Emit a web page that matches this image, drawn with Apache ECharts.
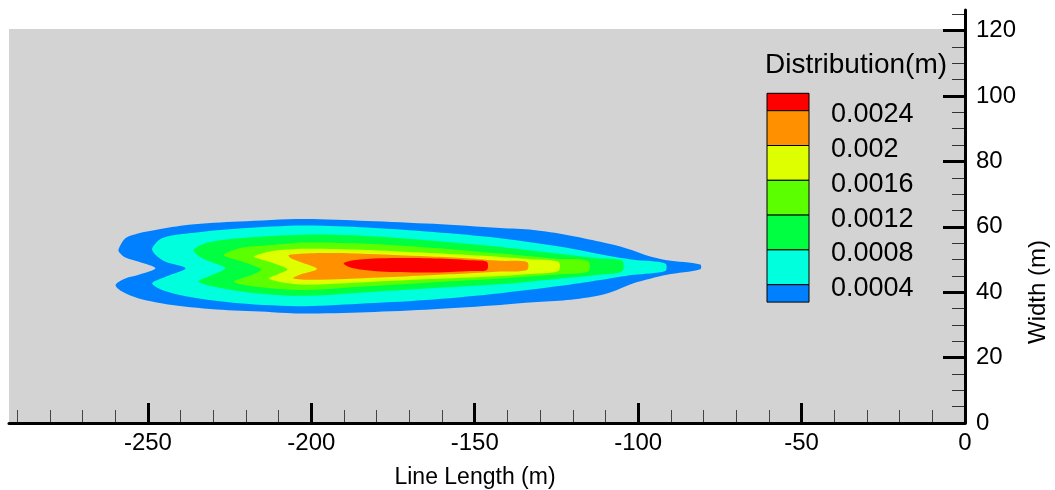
<!DOCTYPE html>
<html>
<head>
<meta charset="utf-8">
<title>Distribution contour</title>
<script src="https://cdn.jsdelivr.net/npm/echarts@6.0.0/dist/echarts.min.js"></script>
<style>
  html, body { margin: 0; padding: 0; background: #fff; }
  #chart { width: 1055px; height: 490px; }
</style>
</head>
<body>
<div id="chart"></div>
<script>
// legend levels (m) and the band colours, lowest band first
const levels = [0.0004, 0.0008, 0.0012, 0.0016, 0.002, 0.0024]
const bandColors = ['#0080ff', '#00ffdd', '#00ff40', '#5cff00', '#ddff00', '#ff9100', '#ff0000']

// axis ticks
const xMajorTicks = [-250, -200, -150, -100, -50, 0]
const yMajorTicks = [0, 20, 40, 60, 80, 100, 120]

// extent of the computed domain (grey area)
const domainX = [-292.5, 0]
const domainY = [0, 120.5]

// outlines of each filled band as [x, y]
const blueRegion = [
  [-258.9, 53.4], [-256.9, 56.5], [-252.8, 58.0], [-247.7, 59.0], [-237.5, 60.6], [-222.2, 61.6],
  [-202.5, 62.4], [-183, 61.8], [-162.6, 60.9], [-142.2, 59.6], [-132, 59.0], [-121.8, 57.5],
  [-111.6, 55.4], [-103.5, 53.4], [-96.3, 50.9], [-91.2, 49.8], [-81, 48.5], [-81, 47.0],
  [-91.2, 45.3], [-101.4, 42.7], [-106.5, 40.7], [-111.6, 39.1], [-121.8, 37.6], [-132, 36.9],
  [-142.2, 36.1], [-162.6, 34.8], [-183, 33.9], [-202.5, 33.5], [-212, 33.9], [-227.3, 34.6],
  [-242.6, 36.1], [-252.8, 38.1], [-257.9, 40.2], [-259.9, 42.2], [-256.9, 44.2], [-252.8, 45.3],
  [-247.7, 47.3], [-252.8, 49.3], [-256.9, 50.6], [-258.9, 52.4]
]
const cyanRegion = [
  [-248.7, 53.4], [-245.7, 56.5], [-237.5, 58.0], [-222.2, 59.5], [-202, 60.4], [-183, 59.8],
  [-162.6, 58.4], [-142.2, 56.5], [-121.8, 53.6], [-111.6, 51.6], [-101.4, 49.9], [-91.7, 48.8],
  [-91.7, 46.5], [-101.4, 45.3], [-111.6, 43.7], [-121.8, 42.2], [-142.2, 39.7], [-162.6, 37.8],
  [-183, 36.6], [-202, 35.7], [-222.2, 36.6], [-237.5, 38.6], [-245.7, 40.7], [-248.7, 42.7],
  [-244.6, 44.7], [-238.5, 47.3], [-244.6, 49.3], [-247.6, 51.4]
]
const greenRegion = [
  [-236, 52.9], [-232.4, 55.0], [-222.2, 56.5], [-202, 57.6], [-183, 57.2], [-163.6, 55.8],
  [-142, 53.8], [-125, 51.8], [-112, 50.3], [-104.9, 49.6], [-104.9, 46.4], [-112, 45.3],
  [-125, 44.0], [-142, 42.4], [-163.6, 41.2], [-183, 40.0], [-202, 38.9], [-217.1, 39.7],
  [-227.3, 41.2], [-234.5, 43.2], [-231, 45.0], [-226.3, 47.3], [-230, 49.0], [-234, 50.8]
]
const limeRegion = [
  [-226.8, 51.4], [-222.2, 53.4], [-212, 54.4], [-202, 55.2], [-183, 54.8], [-163.6, 53.6],
  [-142, 51.8], [-125, 50.2], [-115.3, 49.5], [-115.3, 46.3], [-125, 45.4], [-142, 44.2],
  [-163.6, 43.0], [-183, 41.8], [-202, 40.7], [-217.1, 41.7], [-223.7, 43.2], [-219, 45.0],
  [-215.4, 46.9], [-219, 48.6], [-224, 50.2]
]
const yellowRegion = [
  [-217.6, 50.9], [-212, 52.6], [-202, 53.3], [-185, 53.0], [-163.6, 52.0], [-145, 51.0],
  [-133, 50.1], [-124.4, 49.3], [-124.4, 46.5], [-133, 45.6], [-145, 44.8], [-163.6, 44.0],
  [-185, 43.0], [-202, 42.3], [-207, 42.7], [-213, 44.2], [-210, 45.6], [-207.3, 47.0],
  [-212, 49.0], [-216, 50.2]
]
const orangeRegion = [
  [-206.9, 51.4], [-199.4, 51.9], [-189, 51.9], [-163.6, 50.9], [-152.4, 50.4], [-142.2, 49.6],
  [-134, 49.2], [-134, 46.8], [-142.2, 46.3], [-152.4, 45.7], [-163.6, 45.2], [-179, 44.5],
  [-199.4, 43.8], [-205.5, 44.3], [-203.4, 45.4], [-198.3, 47.1], [-203.4, 49.2], [-206.5, 50.5]
]
const redRegion = [
  [-190.1, 48.8], [-187.1, 49.8], [-178.9, 50.4], [-163.6, 50.4], [-151.4, 49.8], [-146.3, 49.3],
  [-146.3, 46.8], [-151.4, 46.5], [-163.6, 46.0], [-178.9, 46.3], [-187.1, 47.3]
]

const regions = [blueRegion, cyanRegion, greenRegion, limeRegion, yellowRegion, orangeRegion, redRegion]

const fontFamily = "'Liberation Sans', Arial, sans-serif"

let xMinorTicks = []
for (let v = -290; v <= 0; v += 10) xMinorTicks.push(v)
let yMinorTicks = []
for (let v = 0; v <= 125; v += 5) yMinorTicks.push(v)

// colour legend drawn as graphic boxes, top band (red) first
function buildLegend() {
  let items = []
  let left = 767, top = 93.3, boxW = 42, full = 34.8, half = 17.4
  items.push({
    type: 'text', x: 765, y: 65, z: 100,
    style: { text: 'Distribution(m)', font: '28px ' + fontFamily, fill: '#000', textVerticalAlign: 'middle' }
  })
  let y = top
  for (let i = bandColors.length - 1; i >= 0; i--) {
    let h = (i === 0 || i === bandColors.length - 1) ? half : full
    items.push({
      type: 'rect', z: 100, shape: { x: left, y: y, width: boxW, height: h },
      style: { fill: bandColors[i], stroke: '#000', lineWidth: 1 }
    })
    y += h
    if (i > 0) {
      items.push({
        type: 'text', x: 831, y: y + 4, z: 100,
        style: { text: String(levels[i - 1]), font: '27px ' + fontFamily, fill: '#000', textVerticalAlign: 'middle' }
      })
    }
  }
  items.push({
    type: 'text', x: 1038, y: 292, rotation: Math.PI / 2, z: 100,
    style: { text: 'Width (m)', font: '24px ' + fontFamily, fill: '#000', textAlign: 'center', textVerticalAlign: 'middle' }
  })
  return items
}

function getOption() {
  let tickLabel = { fontSize: 24, color: '#000', fontFamily: fontFamily }
  return {
    animation: false,
    backgroundColor: '#fff',
    grid: { left: 9, right: 90, top: 10, bottom: 67, outerBoundsMode: 'none' },
    xAxis: [
      {
        type: 'value', min: domainX[0], max: domainX[1], position: 'bottom', z: 10,
        axisLine: { show: true, onZero: false, lineStyle: { color: '#000', width: 3 } },
        axisTick: { inside: true, length: 20, customValues: xMajorTicks, lineStyle: { color: '#000', width: 3 } },
        axisLabel: Object.assign({ customValues: xMajorTicks, margin: 8 }, tickLabel),
        splitLine: { show: false },
        name: 'Line Length (m)', nameLocation: 'middle', nameGap: 43,
        nameTextStyle: { fontSize: 23, color: '#000', fontFamily: fontFamily, padding: [0, 24, 0, 0] }
      },
      {
        type: 'value', min: domainX[0], max: domainX[1], position: 'bottom', z: 9,
        axisLine: { show: false },
        axisTick: { inside: true, length: 13, customValues: xMinorTicks, lineStyle: { color: '#444', width: 1 } },
        axisLabel: { show: false },
        splitLine: { show: false }
      }
    ],
    yAxis: [
      {
        type: 'value', min: 0, max: 126.3, position: 'right', z: 10,
        axisLine: { show: true, onZero: false, lineStyle: { color: '#000', width: 3 } },
        axisTick: { inside: true, length: 22, customValues: yMajorTicks, lineStyle: { color: '#000', width: 3 } },
        axisLabel: Object.assign({ customValues: yMajorTicks, margin: 11 }, tickLabel),
        splitLine: { show: false }
      },
      {
        type: 'value', min: 0, max: 126.3, position: 'right', z: 9,
        axisLine: { show: false },
        axisTick: { inside: true, length: 13, customValues: yMinorTicks, lineStyle: { color: '#333', width: 1 } },
        axisLabel: { show: false },
        splitLine: { show: false }
      }
    ],
    graphic: buildLegend(),
    series: [
      {
        type: 'custom', name: 'domain', z: 1, silent: true,
        data: [[domainX[0], domainY[1]]],
        renderItem: function (params, api) {
          let p0 = api.coord([domainX[0], domainY[1]])
          let p1 = api.coord([domainX[1], domainY[0]])
          return {
            type: 'rect',
            shape: { x: p0[0], y: p0[1], width: p1[0] - p0[0], height: p1[1] - p0[1] },
            style: { fill: '#d3d3d3' }
          }
        }
      },
      {
        type: 'custom', name: 'Distribution', z: 2, silent: true,
        data: regions.map(r => r[0]),
        renderItem: function (params, api) {
          let pts = regions[params.dataIndex].map(p => api.coord(p))
          return {
            type: 'polygon',
            shape: { points: pts, smooth: 0.3 },
            style: { fill: bandColors[params.dataIndex] }
          }
        }
      }
    ]
  }
}

let chart = echarts.init(document.getElementById('chart'))
chart.setOption(getOption())
window.addEventListener('resize', () => chart.resize())
</script>
</body>
</html>
